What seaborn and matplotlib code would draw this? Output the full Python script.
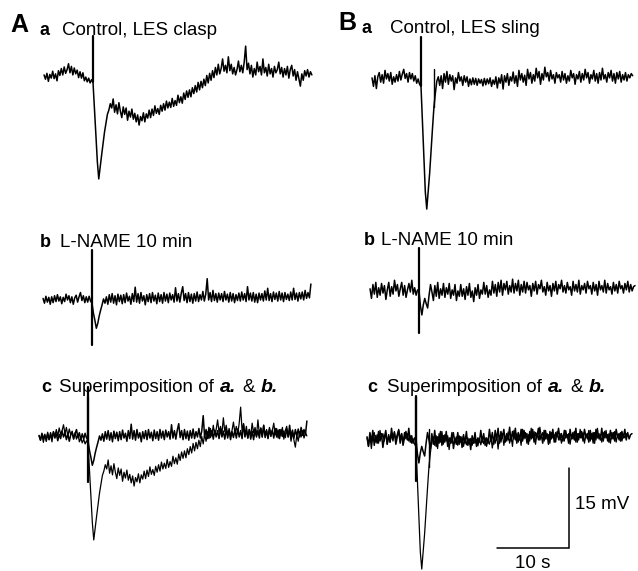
import numpy as np
import pandas as pd
import matplotlib
matplotlib.use("Agg")
import matplotlib.pyplot as plt
from matplotlib.transforms import IdentityTransform
import seaborn as sns

# ---------------- data (mV relative to baseline, sampled every DT s from T_START) -------------
DT = 0.2
T_START = -6.8

clasp_control = [
    0.2, -0.6, 0.5, -1.0, 0.3, -0.4, 0.9, -0.5, 0.4, -0.9, 1.0, 0.1, 1.4, 0.2, 1.7, 0.5, 1.2,
    2.3, 0.6, 1.8, 0.2, 1.5, 0.4, 1.1, -0.3, 0.8, -0.4, 0.6, -0.9, -0.2, -1.1, -0.4, -1.3, -0.7,
    -1.2,
    -6.0, -11.0, -16.0, -19.3, -17.0, -14.8, -12.6, -10.5, -8.8, -7.2, -6.4, -5.2, -6.0, -4.3,
    -6.8, -5.4, -7.1, -5.0, -6.6, -7.8, -5.8, -7.2, -6.0, -8.3, -6.6, -7.7, -6.2, -8.1, -7.0,
    -8.6, -7.3, -9.2, -7.6, -8.4, -6.9, -8.6, -7.1, -7.9, -6.4, -7.8, -6.2, -7.4, -5.6, -7.0,
    -6.1, -7.2, -5.5, -6.6, -5.2, -6.4, -4.7, -6.0, -4.9, -5.9, -4.2, -5.7, -4.6, -5.5, -3.6,
    -5.0, -3.9, -5.1, -3.2, -4.4, -2.8, -4.0, -2.6, -3.9, -2.2, -3.3, -1.8, -3.0, -1.2, -2.6,
    -1.0, -2.2, -0.6, -1.8, 0.1, -1.3, 0.5, -0.8, 1.0, -0.3, 1.6, 0.2, 2.2, 0.4, 1.4, 3.2,
    0.9, 2.0, 0.6, 3.6, 1.0, 2.2, 0.4, 1.6, 0.2, 1.2, 2.8, 0.8, 2.0, 0.6, 2.6, 5.6, 1.2, 2.4,
    0.4, 2.0, -0.2, 1.4, 0.2, 2.6, 0.8, 1.8, 0.2, 3.2, 0.6, 1.6, 0.0, 2.2, 0.4, 1.4, -0.2,
    1.8, 0.6, 1.2, 2.6, 0.4, 1.6, -0.2, 1.4, 0.2, 1.8, -0.4, 1.2, 2.0, 0.0, 1.2, -0.8, 0.8,
    -0.6, -1.9, 0.4, -0.8, 1.0, 0.0, 1.2, -0.2, 0.8, 0.2,
]
clasp_lname = [
    0.3, -0.6, 0.7, -0.4, 0.5, -0.8, 0.6, -0.5, 0.8, -0.3, 1.0, -0.2, 0.6, -0.7, 0.5, -0.3,
    1.1, 0.0, 0.8, -0.5, 0.6, -0.8, 0.4, 0.9, -0.4, 0.6, 1.4, -0.1, 0.8, -0.5, 0.6, -0.4, 0.7,
    -0.2,
    -0.6,
    -2.5, -3.8, -5.3, -4.4, -3.0, -1.9, -0.9, 0.2, -0.6, 0.6,
    -0.8, 1.0, -0.4, 1.2, -0.6, 0.8, -0.9, 1.1, -0.3, 0.9,
    -0.7, 1.0, -0.5, 1.3, -0.2, 0.7, -0.8, 1.2, -0.3, 2.4,
    -0.4, 1.2, -0.6, 1.4, -0.2, 0.8, -0.9, 1.0, -0.3, 1.2,
    -0.5, 1.4, -0.2, 0.9, -0.7, 1.3, -0.3, 1.0, -0.6, 1.4,
    -0.2, 1.1, -0.5, 1.3, 0.0, 1.0, -0.4, 2.3, -0.2, 1.2,
    -0.4, 1.3, 2.5, -0.1, 1.2, -0.5, 1.4, -0.3, 1.1, -0.6,
    1.2, -0.2, 1.5, -0.3, 1.0, 0.0, 1.6, -0.2, 1.1, 4.0,
    0.0, 1.4, -0.3, 1.8, -0.1, 1.2, -0.4, 1.3, 0.0, 1.2,
    -0.3, 1.6, 0.0, 1.1, -0.4, 1.4, -0.2, 1.2, -0.5, 1.0,
    -0.1, 1.3, -0.2, 1.5, 0.0, 1.2, -0.3, 2.5, 0.0, 1.3,
    -0.2, 1.4, -0.4, 1.1, -0.5, 1.3, 0.0, 1.2, -0.2, 1.7,
    0.0, 2.2, -0.1, 1.2, -0.3, 1.5, 0.1, 1.3, -0.2, 1.6,
    0.0, 1.3, -0.3, 1.4, 0.1, 1.1, -0.1, 1.5, 0.0, 2.2,
    0.1, 1.3, -0.2, 1.4, 0.2, 1.5, 0.0, 1.8, 0.3, 1.4,
    0.4, 3.0,
]
sling_control = [
    0.4, -1.2, 0.8, -1.6, 0.6, 1.4, -0.4, 1.0, -0.6, 1.8, 0.2, 1.2, -0.2, 1.4, -0.8, 0.6,
    -0.4, 1.0, -0.2, 1.6, 0.0, 1.1, 2.0, 0.3, 1.2, -0.4, 1.4, 0.2, 1.2, -0.2, 0.8, -0.6, 0.2,
    -0.8,
    -1.2,
    -7.8, -14.4, -21.0, -24.2, -20.8, -17.5, -13.2, -9.0, -5.0, -2.4, -0.2, 0.6,
    -1.0, 0.8, -1.6, 1.2, -0.4, 1.6, -0.8, 1.0, -0.2, 0.8,
    -1.8, 0.4, -0.6, 1.4, -0.2, 0.6, -1.0, 0.8, -0.4, 0.6,
    -1.2, 0.2, -0.9, 0.4, -0.8, 0.3, -1.0, 0.2, -0.6, 0.1,
    -1.1, 0.3, -0.9, 0.2, -0.7, 0.4, -1.2, 0.0, -0.8, 0.6,
    -1.5, 0.4, -0.6, 1.0, -1.7, 0.8, -0.4, 1.2, -1.0, 0.6,
    -0.2, 1.5, -0.6, 0.8, -1.2, 1.8, 0.0, 1.2, -0.4, 0.9,
    -1.0, 2.0, 0.2, 1.4, -0.6, 1.0, -0.2, 2.2, 0.4, 1.6,
    -0.8, 1.2, 0.0, 2.4, 0.6, 1.4, -0.2, 1.8, 0.2, 1.0,
    -0.6, 1.4, 0.4, 1.0, -0.4, 1.6, 0.0, 1.2, -0.6, 0.8,
    -0.2, 1.8, 0.4, 1.2, -0.8, 1.0, 0.2, 1.6, -0.4, 1.2,
    0.0, 2.0, 0.4, 1.4, -0.6, 1.0, 0.2, 1.8, -0.2, 1.2,
    -0.6, 1.4, 0.0, 2.2, 0.2, 1.0, -0.4, 1.4, 0.4, 1.8,
    -0.2, 1.2, -0.6, 1.4, 0.2, 1.6, -0.4, 1.0, 0.0, 1.4,
    -0.2, 1.0, 0.4, 1.2, 0.8,
]
sling_lname = [
    0.6, -1.2, 1.4, -0.4, 1.8, -1.0, 0.8, -0.6, 1.6, -0.2, 1.2, -1.4, 0.4, 1.8, -0.8, 1.0,
    -0.4, 2.2, 0.2, 1.4, -0.8, 0.6, 1.8, -0.6, 1.2, -1.0, 0.4, 1.6, 0.0, 2.2, -0.4, 0.8, -0.6,
    0.4,
    0.2,
    -2.6, -4.3, -2.4, -1.2, -2.2, -3.0, -0.6, 1.4, 0.0, -1.6,
    1.2, -0.8, 1.8, -1.2, 0.6, -0.6, 1.6, -1.0, 0.8, -0.4,
    1.6, -1.2, 0.4, -0.6, 1.4, -1.6, 0.2, -0.8, 1.4, -0.8,
    0.6, -1.4, 1.0, -0.6, 1.6, -1.0, 0.2, -1.8, 0.8, -0.6,
    1.4, -1.2, 0.4, -0.4, 1.8, -0.4, 1.2, -1.0, 0.4, -0.6,
    2.0, -0.2, 1.4, -0.8, 1.8, 0.0, 2.2, -0.6, 1.6, 0.4,
    2.0, -0.4, 1.2, 0.0, 2.4, -0.2, 1.6, 0.2, 2.2, -0.6,
    1.4, 0.0, 2.0, -0.2, 1.8, 0.4, 1.2, -0.8, 1.6, 0.2,
    2.0, -0.4, 1.4, 0.6, 2.2, 0.0, 1.0, -0.6, 1.8, 0.2,
    1.2, -0.8, 1.6, 0.2, 2.0, -0.4, 1.4, 0.6, 2.2, 0.0,
    1.2, -0.2, 1.8, 0.4, 1.0, -0.6, 2.0, 0.2, 1.4, 0.0,
    2.2, -0.4, 1.2, 0.4, 1.6, -0.2, 2.0, 0.6, 1.2, -0.4,
    1.8, 0.2, 1.4, -0.6, 2.0, 0.4, 1.2, 0.0, 2.2, -0.2,
    1.6, 0.4, 1.0, -0.4, 1.8, 0.2, 1.4, -0.2, 2.0, 0.6,
    1.2, -0.2, 1.6, 0.4, 2.0, 0.0, 1.4, 0.2, 1.0, 1.2,
]

# stimulus artefacts at t = 0: [top, bottom] in mV
clasp_control_artifact = [7.5, -1.2]
clasp_lname_artifact = [9.4, -8.4]
sling_control_artifact = [8.1, -1.2]
sling_lname_artifact = [8.3, -7.7]
# end-of-IJP transient in sling control: [time s, bottom mV, top mV]
sling_control_transient = [1.8, -5.0, 2.0]

SCALE_T = 10    # s
SCALE_MV = 15   # mV

# ---------------- layout ----------------
W, H = 638, 571
PX_PER_S = 7.2
PX_PER_MV = 5.333
FS = 13.5
FS_SUB = 13
FS_BIG = 18
LW = 1.1

sns.set_theme(style="white")
plt.rcParams["font.family"] = ["Liberation Sans", "DejaVu Sans"]

fig = plt.figure(figsize=(W / 100, H / 100), dpi=100)
ax = fig.add_axes([0, 0, 1, 1])
ax.set_xlim(0, W / PX_PER_S)
ax.set_ylim(-H / PX_PER_MV, 0)
ax.axis("off")


def trace(values, stim_px, base_px, lw=LW):
    v = np.asarray(values, dtype=float)
    t = T_START + DT * np.arange(len(v))
    df = pd.DataFrame({"t": t + stim_px / PX_PER_S, "v": v - base_px / PX_PER_MV})
    sns.lineplot(data=df, x="t", y="v", ax=ax, color="black", lw=lw,
                 estimator=None, sort=False, legend=False)


def vseg(t, v0, v1, stim_px, base_px, lw=1.6):
    df = pd.DataFrame({"t": [t + stim_px / PX_PER_S] * 2,
                       "v": [v0 - base_px / PX_PER_MV, v1 - base_px / PX_PER_MV]})
    sns.lineplot(data=df, x="t", y="v", ax=ax, color="black", lw=lw,
                 estimator=None, sort=False, legend=False)


def clasp_a(sx, by, lw=LW):
    trace(clasp_control, sx, by, lw)
    vseg(0, clasp_control_artifact[0], clasp_control_artifact[1], sx, by)


def clasp_b(sx, by, lw=LW):
    trace(clasp_lname, sx, by, lw)
    vseg(0, clasp_lname_artifact[0], clasp_lname_artifact[1], sx, by)


def sling_a(sx, by, lw=LW):
    trace(sling_control, sx, by, lw)
    vseg(0, sling_control_artifact[0], sling_control_artifact[1], sx, by)
    vseg(sling_control_transient[0], sling_control_transient[1], sling_control_transient[2],
         sx, by, lw=1.0)


def sling_b(sx, by, lw=LW):
    trace(sling_lname, sx, by, lw)
    vseg(0, sling_lname_artifact[0], sling_lname_artifact[1], sx, by)


# panel A
clasp_a(93, 76)
clasp_b(92, 300)
clasp_a(88, 437, lw=0.9)
clasp_b(88, 437)
# panel B
sling_a(421, 80)
sling_b(419, 292)
sling_a(416, 440, lw=0.9)
sling_b(416, 440)

# scale bar
cx, cy = 569 / PX_PER_S, -548 / PX_PER_MV
ax.plot([cx - SCALE_T, cx, cx], [cy, cy, cy + SCALE_MV], color="black", lw=1.1,
        solid_joinstyle="miter")

# ---------------- text ----------------
renderer = fig.canvas.get_renderer()


def rich(x, y, pieces):
    for s, size, weight, style, gap in pieces:
        t = fig.text(x, H - y, s, transform=IdentityTransform(), fontsize=size,
                     fontweight=weight, fontstyle=style, ha="left", va="baseline",
                     color="black")
        bb = t.get_window_extent(renderer=renderer)
        x = bb.x1 + gap


def txt(x, y, s, size=FS, weight="normal", ha="left"):
    fig.text(x, H - y, s, transform=IdentityTransform(), fontsize=size,
             fontweight=weight, ha=ha, va="baseline", color="black")


txt(10, 32, "A", size=FS_BIG, weight="bold")
txt(40, 35, "a", size=FS_SUB, weight="bold")
txt(62, 35, "Control, LES clasp")
txt(40, 247, "b", size=FS_SUB, weight="bold")
txt(60, 247, "L-NAME 10 min")
txt(41, 392, "c", size=FS_SUB, weight="bold")
sup = [("Superimposition of", FS, "normal", "normal", 6),
       ("a.", 14, "bold", "italic", 6),
       ("&", FS, "normal", "normal", 6),
       ("b.", 14, "bold", "italic", 0)]
rich(59, 392, sup)

txt(338, 30, "B", size=FS_BIG, weight="bold")
txt(362, 33, "a", size=FS_SUB, weight="bold")
txt(390, 33, "Control, LES sling")
txt(364, 245, "b", size=FS_SUB, weight="bold")
txt(381, 245, "L-NAME 10 min")
txt(367, 392, "c", size=FS_SUB, weight="bold")
rich(387, 392, sup)

txt(575, 509, "15 mV")
txt(533, 568, "10 s", ha="center")

fig.savefig("out.png", dpi=100, facecolor="white")
